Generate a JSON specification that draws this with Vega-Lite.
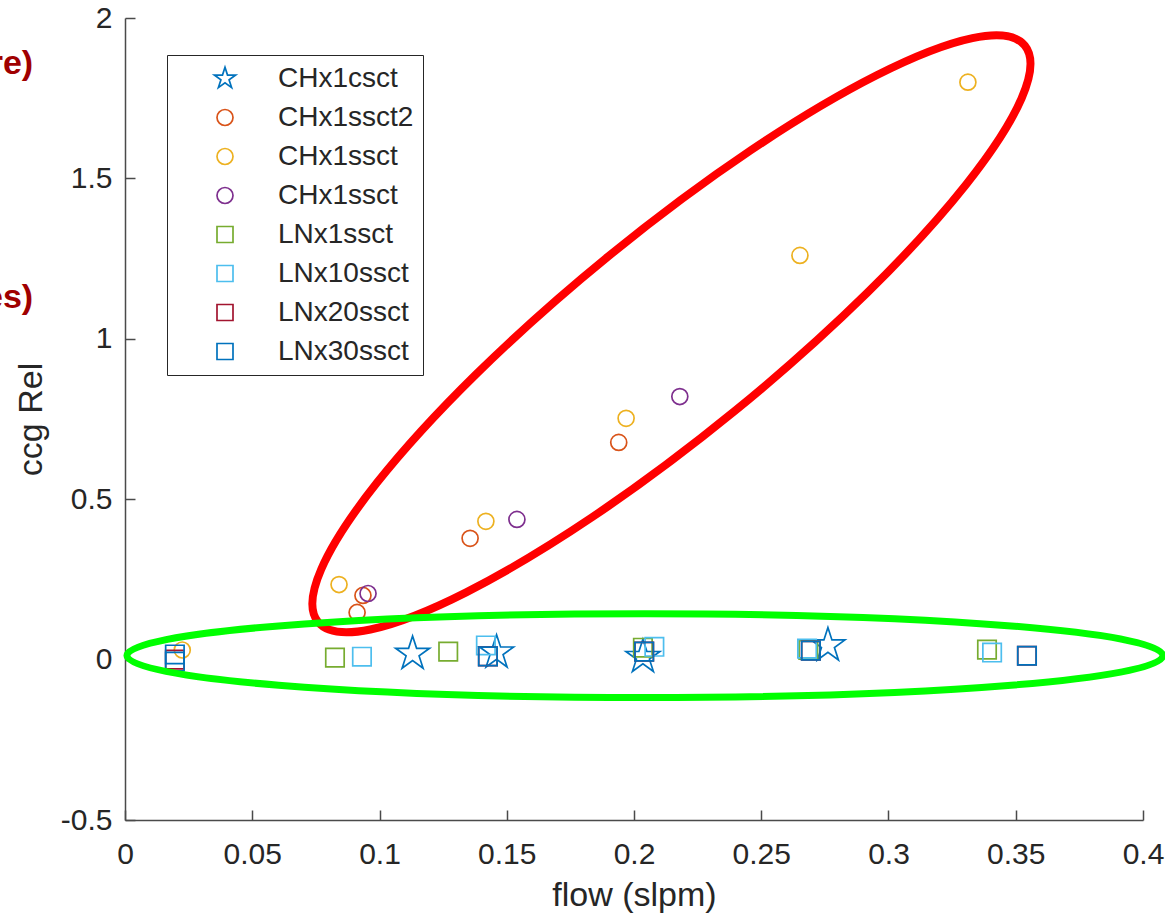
{
  "$schema": "https://vega.github.io/schema/vega-lite/v6.json",
  "width": 1018,
  "height": 802,
  "autosize": "none",
  "padding": {"left": 125, "top": 18, "right": 22, "bottom": 100},
  "background": "white",
  "config": {
    "view": {"stroke": null},
    "axis": {
      "grid": false,
      "domainColor": "#4a4a4a",
      "domainWidth": 1.5,
      "tickColor": "#4a4a4a",
      "tickWidth": 1.5,
      "tickSize": -10,
      "labelFlush": false,
      "labelFont": "Liberation Sans",
      "labelFontSize": 30,
      "labelColor": "#262626",
      "titleFont": "Liberation Sans",
      "titleFontSize": 34,
      "titleFontWeight": "normal",
      "titleColor": "#262626"
    }
  },
  "data": {
    "values": [
      {"series": "CHx1csct", "flow": 0.113, "ccg": 0.018},
      {"series": "CHx1csct", "flow": 0.146, "ccg": 0.022},
      {"series": "CHx1csct", "flow": 0.2035, "ccg": 0.008},
      {"series": "CHx1csct", "flow": 0.2762, "ccg": 0.044},
      {"series": "CHx1ssct2", "flow": 0.0912, "ccg": 0.147},
      {"series": "CHx1ssct2", "flow": 0.0935, "ccg": 0.2},
      {"series": "CHx1ssct2", "flow": 0.1356, "ccg": 0.378},
      {"series": "CHx1ssct2", "flow": 0.194, "ccg": 0.677},
      {"series": "CHx1ssct (1)", "flow": 0.0225, "ccg": 0.03},
      {"series": "CHx1ssct (1)", "flow": 0.0841, "ccg": 0.234},
      {"series": "CHx1ssct (1)", "flow": 0.1418, "ccg": 0.431},
      {"series": "CHx1ssct (1)", "flow": 0.1969, "ccg": 0.752},
      {"series": "CHx1ssct (1)", "flow": 0.2652, "ccg": 1.26},
      {"series": "CHx1ssct (1)", "flow": 0.3312, "ccg": 1.8},
      {"series": "CHx1ssct (2)", "flow": 0.0955, "ccg": 0.206},
      {"series": "CHx1ssct (2)", "flow": 0.154, "ccg": 0.437},
      {"series": "CHx1ssct (2)", "flow": 0.218, "ccg": 0.82},
      {"series": "LNx1ssct", "flow": 0.0825, "ccg": 0.006},
      {"series": "LNx1ssct", "flow": 0.127, "ccg": 0.025},
      {"series": "LNx1ssct", "flow": 0.2035, "ccg": 0.037},
      {"series": "LNx1ssct", "flow": 0.2685, "ccg": 0.03},
      {"series": "LNx1ssct", "flow": 0.3387, "ccg": 0.031},
      {"series": "LNx10ssct", "flow": 0.0931, "ccg": 0.009},
      {"series": "LNx10ssct", "flow": 0.1418, "ccg": 0.044},
      {"series": "LNx10ssct", "flow": 0.208, "ccg": 0.04},
      {"series": "LNx10ssct", "flow": 0.268, "ccg": 0.034},
      {"series": "LNx10ssct", "flow": 0.3407, "ccg": 0.022},
      {"series": "LNx20ssct", "flow": 0.0196, "ccg": 0.0},
      {"series": "LNx20ssct", "flow": 0.1426, "ccg": 0.01},
      {"series": "LNx20ssct", "flow": 0.204, "ccg": 0.025},
      {"series": "LNx20ssct", "flow": 0.2695, "ccg": 0.028},
      {"series": "LNx20ssct", "flow": 0.3544, "ccg": 0.012},
      {"series": "LNx30ssct", "flow": 0.0196, "ccg": 0.016},
      {"series": "LNx30ssct", "flow": 0.0196, "ccg": -0.006},
      {"series": "LNx30ssct", "flow": 0.1426, "ccg": 0.01},
      {"series": "LNx30ssct", "flow": 0.204, "ccg": 0.025},
      {"series": "LNx30ssct", "flow": 0.2695, "ccg": 0.028},
      {"series": "LNx30ssct", "flow": 0.3544, "ccg": 0.012}
    ]
  },
  "encoding": {
    "x": {
      "field": "flow",
      "type": "quantitative",
      "scale": {"domain": [0, 0.4], "nice": false, "zero": false},
      "axis": {
        "title": "flow (slpm)",
        "values": [0, 0.05, 0.1, 0.15, 0.2, 0.25, 0.3, 0.35, 0.4],
        "labelExpr": "'' + datum.value",
        "labelFlush": false,
        "labelFontSize": 30,
        "titleFontSize": 34,
        "labelPadding": 29,
        "titlePadding": 9
      }
    },
    "y": {
      "field": "ccg",
      "type": "quantitative",
      "scale": {"domain": [-0.5, 2], "nice": false, "zero": false},
      "axis": {
        "title": "ccg Rel",
        "values": [-0.5, 0, 0.5, 1, 1.5, 2],
        "labelExpr": "'' + datum.value",
        "labelFlush": false,
        "labelFontSize": 30,
        "titleFontSize": 34,
        "labelPadding": 23,
        "titlePadding": 12
      }
    },
    "color": {
      "field": "series",
      "type": "nominal",
      "scale": {
        "domain": ["CHx1csct", "CHx1ssct2", "CHx1ssct (1)", "CHx1ssct (2)", "LNx1ssct", "LNx10ssct", "LNx20ssct", "LNx30ssct"],
        "range": ["#0072BD", "#D95319", "#EDB120", "#7E2F8E", "#77AC30", "#4DBEEE", "#A2142F", "#0072BD"]
      },
      "legend": {
        "title": null,
        "orient": "none",
        "legendX": 42,
        "legendY": 37,
        "padding": 9.5,
        "rowPadding": 11,
        "symbolOffset": 34.5,
        "labelOffset": 39,
        "labelFont": "Liberation Sans",
        "labelFontSize": 28,
        "labelColor": "#262626",
        "labelLimit": 400,
        "strokeColor": "#262626",
        "fillColor": "white",
        "symbolSize": 256,
        "symbolStrokeWidth": 1.7,
        "labelExpr": "replace(replace(datum.label, ' (1)', ''), ' (2)', '')"
      }
    },
    "shape": {
      "field": "series",
      "type": "nominal",
      "scale": {
        "domain": ["CHx1csct", "CHx1ssct2", "CHx1ssct (1)", "CHx1ssct (2)", "LNx1ssct", "LNx10ssct", "LNx20ssct", "LNx30ssct"],
        "range": ["M0,-1.4L0.314,-0.433L1.331,-0.433L0.509,0.165L0.823,1.133L0,0.535L-0.823,1.133L-0.509,0.165L-1.331,-0.433L-0.314,-0.433Z", "circle", "circle", "circle", "square", "square", "square", "square"]
      },
      "legend": {
        "title": null,
        "orient": "none",
        "legendX": 42,
        "legendY": 37,
        "padding": 9.5,
        "rowPadding": 11,
        "symbolOffset": 34.5,
        "labelOffset": 39,
        "labelFont": "Liberation Sans",
        "labelFontSize": 28,
        "labelColor": "#262626",
        "labelLimit": 400,
        "strokeColor": "#262626",
        "fillColor": "white",
        "symbolSize": 256,
        "symbolStrokeWidth": 1.7,
        "labelExpr": "replace(replace(datum.label, ' (1)', ''), ' (2)', '')"
      }
    }
  },
  "layer": [
    {
      "transform": [{"filter": "datum.series == 'CHx1csct'"}],
      "mark": {"type": "point", "filled": false, "strokeWidth": 1.7, "opacity": 1, "size": 652}
    },
    {
      "transform": [{"filter": "indexof(datum.series, 'CH') == 0 && datum.series != 'CHx1csct'"}],
      "mark": {"type": "point", "filled": false, "strokeWidth": 1.7, "opacity": 1, "size": 256}
    },
    {
      "transform": [{"filter": "indexof(datum.series, 'LN') == 0"}],
      "mark": {"type": "point", "filled": false, "strokeWidth": 1.7, "opacity": 1, "size": 340}
    },
    {
      "data": {
        "values": [
          {"note": "re)", "flow": -0.0361, "ccg": 1.856},
          {"note": "es)", "flow": -0.0361, "ccg": 1.126}
        ]
      },
      "mark": {"type": "text", "align": "right", "baseline": "middle", "font": "Liberation Sans Narrow, Liberation Sans", "fontWeight": "bold", "fontSize": 34, "color": "#a00000", "clip": false},
      "encoding": {"text": {"field": "note"}, "color": null, "shape": null}
    },
    {
      "data": {"values": [{"flow": 0.2147, "ccg": 1.0156}]},
      "mark": {
        "type": "point",
        "shape": "M1,0C1,0.121 0.5523,0.219 0,0.219C-0.5523,0.219 -1,0.121 -1,0C-1,-0.121 -0.5523,-0.219 0,-0.219C0.5523,-0.219 1,-0.121 1,0Z",
        "size": 831744,
        "angle": -39.2,
        "filled": false,
        "color": "#ff0000",
        "strokeWidth": 8,
        "opacity": 1
      },
      "encoding": {"color": null, "shape": null}
    },
    {
      "data": {"values": [{"flow": 0.2043, "ccg": 0.0125}]},
      "mark": {
        "type": "point",
        "shape": "M1,0C1,0.0447 0.5523,0.081 0,0.081C-0.5523,0.081 -1,0.0447 -1,0C-1,-0.0447 -0.5523,-0.081 0,-0.081C0.5523,-0.081 1,-0.0447 1,0Z",
        "size": 1073296,
        "filled": false,
        "color": "#00ff00",
        "strokeWidth": 7,
        "opacity": 1
      },
      "encoding": {"color": null, "shape": null}
    }
  ]
}
